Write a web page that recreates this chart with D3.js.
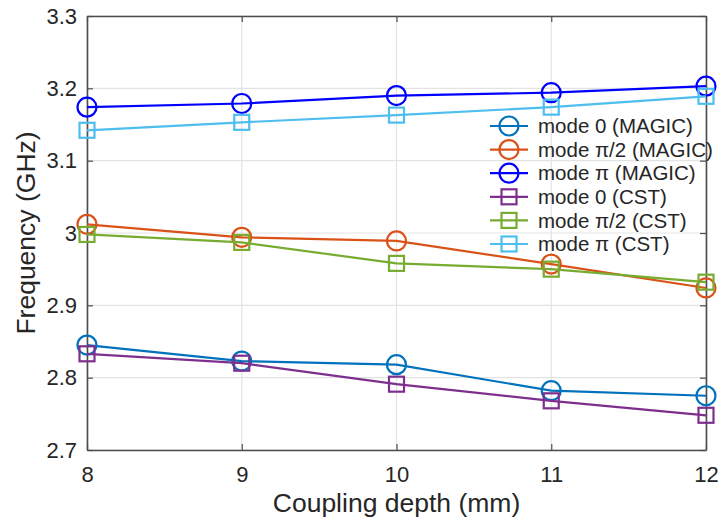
<!DOCTYPE html>
<html>
<head>
<meta charset="utf-8">
<script src="https://cdn.jsdelivr.net/npm/d3@7"></script>
<style>
  body { margin: 0; background: #fff; }
  svg text { font-family: Arial, "Liberation Sans", Helvetica, sans-serif; fill: #262626; }
</style>
</head>
<body>
<div id="chart"></div>
<script>
// data
var depths = [8, 9, 10, 11, 12];
var xTicks = [8, 9, 10, 11, 12];
var yTicks = [2.7, 2.8, 2.9, 3.0, 3.1, 3.2, 3.3];
var yTickLabels = ["2.7", "2.8", "2.9", "3", "3.1", "3.2", "3.3"];

var mode0Magic  = [2.845, 2.823, 2.818, 2.782, 2.775];
var piHalfMagic = [3.012, 2.994, 2.989, 2.957, 2.924];
var piMagic     = [3.174, 3.179, 3.190, 3.194, 3.203];
var mode0Cst    = [2.833, 2.820, 2.791, 2.768, 2.748];
var piHalfCst   = [2.998, 2.987, 2.958, 2.950, 2.932];
var piCst       = [3.142, 3.153, 3.163, 3.174, 3.189];

var seriesNames = ["mode 0 (MAGIC)", "mode \u03c0/2 (MAGIC)", "mode \u03c0 (MAGIC)",
                   "mode 0 (CST)", "mode \u03c0/2 (CST)", "mode \u03c0 (CST)"];

var series = [
  {name: seriesNames[0], values: mode0Magic,  color: "#0072BD", marker: "circle"},
  {name: seriesNames[1], values: piHalfMagic, color: "#D95319", marker: "circle"},
  {name: seriesNames[2], values: piMagic,     color: "#0000FF", marker: "circle"},
  {name: seriesNames[3], values: mode0Cst,    color: "#7E2F8E", marker: "square"},
  {name: seriesNames[4], values: piHalfCst,   color: "#77AC30", marker: "square"},
  {name: seriesNames[5], values: piCst,       color: "#4DBEEE", marker: "square"}
];

var W = 721, H = 532;
var margin = {top: 16, right: 15, bottom: 82, left: 87};
var width = W - margin.left - margin.right,
    height = H - margin.top - margin.bottom;

var svg = d3.select("#chart").append("svg")
    .attr("width", W)
    .attr("height", H);

var g = svg.append("g")
    .attr("transform", "translate(" + margin.left + "," + margin.top + ")");

var x = d3.scaleLinear().domain([8, 12]).range([0, width]);
var y = d3.scaleLinear().domain([2.7, 3.3]).range([height, 0]);

// grid
g.selectAll(".vgrid").data(xTicks).enter().append("line")
    .attr("x1", function (d) { return x(d); })
    .attr("x2", function (d) { return x(d); })
    .attr("y1", 0).attr("y2", height)
    .attr("stroke", "#e3e3e3").attr("stroke-width", 1.2);

g.selectAll(".hgrid").data(yTicks).enter().append("line")
    .attr("y1", function (d) { return y(d); })
    .attr("y2", function (d) { return y(d); })
    .attr("x1", 0).attr("x2", width)
    .attr("stroke", "#e3e3e3").attr("stroke-width", 1.2);

// axes
var xAxis = d3.axisBottom(x).tickValues(xTicks).tickSizeInner(-6).tickSizeOuter(0)
    .tickPadding(16).tickFormat(d3.format("d"));
var yAxis = d3.axisLeft(y).tickValues(yTicks).tickSizeInner(-6).tickSizeOuter(0)
    .tickPadding(10).tickFormat(function (d, i) { return yTickLabels[i]; });

var gx = g.append("g").attr("transform", "translate(0," + height + ")").call(xAxis);
var gy = g.append("g").call(yAxis);

var gTop = g.append("g").call(d3.axisTop(x).tickValues(xTicks).tickSizeInner(-6).tickSizeOuter(0).tickFormat(""));
var gRight = g.append("g").attr("transform", "translate(" + width + ",0)")
    .call(d3.axisRight(y).tickValues(yTicks).tickSizeInner(-6).tickSizeOuter(0).tickFormat(""));

[gx, gy, gTop, gRight].forEach(function (a) {
    a.select(".domain").attr("stroke", "#4d4d4d").attr("stroke-width", 1.6);
    a.selectAll(".tick line").attr("stroke", "#4d4d4d").attr("stroke-width", 1.2);
    a.selectAll(".tick text").attr("font-size", "22px").attr("fill", "#262626");
});

// axis labels
svg.append("text")
    .attr("x", margin.left + width / 2)
    .attr("y", 512)
    .attr("text-anchor", "middle")
    .attr("font-size", "26.5px")
    .text("Coupling depth (mm)");

svg.append("text")
    .attr("transform", "translate(34.5," + (margin.top + height / 2) + ") rotate(-90)")
    .attr("text-anchor", "middle")
    .attr("font-size", "26.5px")
    .text("Frequency (GHz)");

// lines and markers
var line = d3.line()
    .x(function (d, i) { return x(depths[i]); })
    .y(function (d) { return y(d); });

function drawMarker(sel, type, color) {
    if (type === "circle") {
        sel.append("circle").attr("r", 9.5)
            .attr("fill", "none").attr("stroke", color).attr("stroke-width", 2.2);
    } else {
        sel.append("rect").attr("x", -7.5).attr("y", -7.5)
            .attr("width", 15).attr("height", 15)
            .attr("fill", "none").attr("stroke", color).attr("stroke-width", 2.2);
    }
}

series.forEach(function (s) {
    g.append("path")
        .datum(s.values)
        .attr("d", line)
        .attr("fill", "none")
        .attr("stroke", s.color)
        .attr("stroke-width", 2.2);

    g.selectAll(null).data(s.values).enter().append("g")
        .attr("transform", function (d, i) { return "translate(" + x(depths[i]) + "," + y(d) + ")"; })
        .each(function () { drawMarker(d3.select(this), s.marker, s.color); });
});

// legend (no box)
var legend = svg.append("g").attr("transform", "translate(490,126)");
series.forEach(function (s, i) {
    var row = legend.append("g").attr("transform", "translate(0," + (i * 23.6) + ")");
    row.append("line").attr("x1", 0).attr("x2", 38).attr("y1", 0).attr("y2", 0)
        .attr("stroke", s.color).attr("stroke-width", 2.2);
    var m = row.append("g").attr("transform", "translate(19,0)");
    drawMarker(m, s.marker, s.color);
    row.append("text").attr("x", 48).attr("y", 0).attr("dy", "0.35em")
        .attr("font-size", "20.5px")
        .text(s.name);
});
</script>
</body>
</html>
